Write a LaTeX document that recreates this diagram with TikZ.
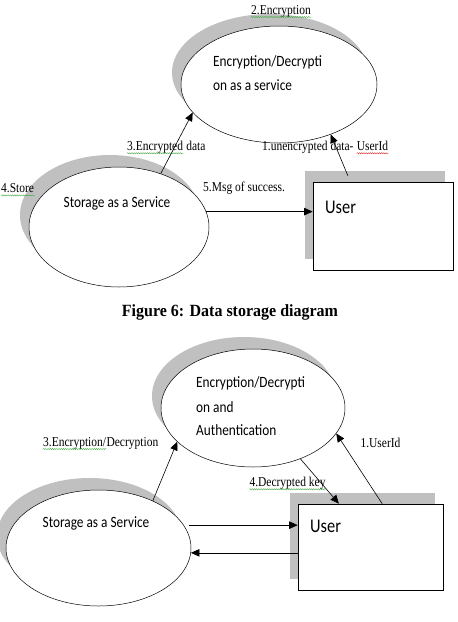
\documentclass[tikz,border=0pt]{standalone}
\usepackage{fontspec}
\setmainfont{Liberation Serif}
\newfontfamily\calib{Carlito}
\usepackage{graphicx}
\usetikzlibrary{shapes.geometric,shadows,arrows.meta,calc,decorations.pathmorphing}
\definecolor{shadowgray}{RGB}{192,192,192}
\definecolor{wavegreen}{RGB}{70,170,70}
\definecolor{wavered}{RGB}{225,40,40}
\newcommand\vst[1]{\scalebox{1}[1.18]{#1}}
\begin{document}
\begin{tikzpicture}[x=1pt,y=-1pt,
  proc/.style={ellipse, draw, line width=0.5pt, fill=white, inner sep=0pt,
    drop shadow={shadow xshift=-9pt, shadow yshift=12pt, fill=shadowgray, draw=none, opacity=1}},
  ent/.style={rectangle, draw, line width=0.7pt, fill=white, inner sep=0pt,
    drop shadow={shadow xshift=-8.5pt, shadow yshift=11.5pt, fill=shadowgray, draw=none, opacity=1}},
  lbl/.style={font=\fontsize{11.5}{13}\selectfont, inner sep=0pt},
  intext/.style={font=\calib\fontsize{13.3}{15}\selectfont, inner sep=0pt},
  usertext/.style={font=\calib\fontsize{16.4}{18}\selectfont, inner sep=0pt},
  flow/.style={-{Triangle[length=8.5pt,width=7.5pt]}, line width=0.6pt},
  gwave/.style={draw=wavegreen, line width=0.4pt, decorate,
    decoration={snake, amplitude=0.6pt, segment length=2.2pt}},
  rwave/.style={gwave, draw=wavered}]
\useasboundingbox (0,0) rectangle (458,622);

% ---------- top diagram ----------
\node[proc, minimum width=196pt, minimum height=117pt] (enc1) at (279,84.5) {};
\node[proc, minimum width=180pt, minimum height=120pt] (stor1) at (119,227) {};
\node[ent, minimum width=140pt, minimum height=88pt] (user1) at (383,226) {};

\node[intext, anchor=west] (t1a) at (213,62) {\vst{Encryption/Decrypti}};
\node[intext, anchor=west] (t1b) at (213,85) {\vst{on as a service}};
\node[intext] (t2) at (117,203) {\vst{Storage as a Service}};
\node[usertext, anchor=west] (t3) at (325,207) {\vst{User}};

\node[lbl] (l2enc) at (281,11) {\vst{2.Encryption}};
\node[lbl, anchor=west] (l3a) at (127,147) {\vst{3.Encrypted}};
\node[lbl, anchor=base west] (l3b) at ($(l3a.base east)+(2.9,0)$) {\vst{data}};
\node[lbl, anchor=west] (l4store) at (1,188) {\vst{4.Store}};
\node[lbl, anchor=west] (l1a) at (262,147) {\vst{1.unencrypted data-}};
\node[lbl, anchor=base west] (l1b) at ($(l1a.base east)+(2.9,0)$) {\vst{UserId}};
\node[lbl, anchor=west] (l5) at (203,188) {\vst{5.Msg of success.}};

\draw[gwave] ($(l2enc.base west)+(0,3)$) -- ($(l2enc.base east)+(0,3)$);
\draw[gwave] ($(l3a.base west)+(0,3)$) -- ($(l3a.base east)+(0,3)$);
\draw[gwave] ($(l4store.base west)+(0,3)$) -- ($(l4store.base east)+(0,3)$);
\draw[rwave] ($(l1b.base west)+(0,3)$) -- ($(l1b.base east)+(0,3)$);

\coordinate (u1a) at ($(user1.north west)!0.25!(user1.north east)+(0,-6)$);
\draw[flow] (stor1.52) -- (enc1.198);
\draw[flow] (u1a) -- (enc1.-44);
\draw[flow] (stor1.10) -- (stor1.10 -| user1.west);

% caption
\node[inner sep=0pt] (cap) at (230,312) {\scalebox{1}[1.07]{\fontsize{16}{18}\selectfont\bfseries Figure 6: Data storage diagram}};

% ---------- bottom diagram ----------
\node[proc, minimum width=184pt, minimum height=118pt] (enc2) at (253,408) {};
\node[proc, minimum width=185pt, minimum height=116pt] (stor2) at (98.5,548) {};
\node[ent, minimum width=145pt, minimum height=86pt] (user2) at (370.5,547) {};

\node[intext, anchor=west] (t4a) at (196,383) {\vst{Encryption/Decrypti}};
\node[intext, anchor=west] (t4b) at (196,407) {\vst{on and}};
\node[intext, anchor=west] (t4c) at (196,430) {\vst{Authentication}};
\node[intext] (t5) at (96,523) {\vst{Storage as a Service}};
\node[usertext, anchor=west] (t6) at (310,526) {\vst{User}};

\node[lbl, anchor=west] (l3c) at (43,443) {\vst{3.Encryption/}};
\node[lbl, anchor=base west] (l3d) at (l3c.base east) {\vst{Decryption}};
\node[lbl] (l4bot) at (287.5,483) {\vst{4.Decrypted key}};
\node[lbl] (l1bot) at (380.5,443) {\vst{1.UserId}};

\draw[gwave] ($(l3c.base west)+(0,3)$) -- ($(l3c.base east)+(0,3)$);
\draw[gwave] ($(l4bot.base west)+(0,3)$) -- ($(l4bot.base east)+(0,3)$);

\coordinate (u2a) at ($(user2.north west)!0.283!(user2.north east)$);
\coordinate (u2b) at ($(user2.north west)!0.58!(user2.north east)$);
\draw[flow] (stor2.41) -- (enc2.204);
\draw[flow] (enc2.-47) -- (u2a);
\draw[flow] (u2b) -- (enc2.-17);
\draw[flow, shorten <=5pt] (stor2.15) -- (stor2.15 -| user2.west);
\draw[flow] (user2.west |- stor2.-3) -- (stor2.-3);
\end{tikzpicture}
\end{document}
